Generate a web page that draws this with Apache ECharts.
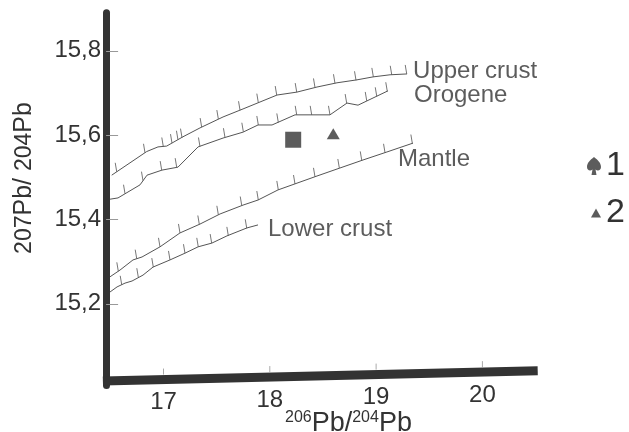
<!DOCTYPE html>
<html><head><meta charset="utf-8">
<script src="https://cdn.jsdelivr.net/npm/echarts@6/dist/echarts.min.js"></script>
<style>html,body{margin:0;padding:0;background:#fff;}#c{width:629px;height:432px;}</style>
</head><body><div id="c"></div>
<script>
// ---- data ----
const xTickValues = [17, 18, 19, 20];
const yTickValues = [15.2, 15.4, 15.6, 15.8];
const curveNames = ['Upper crust', 'Orogene', 'Mantle', 'Lower crust'];
const upperCrust = [[16.513,15.505],[16.842,15.561],[16.948,15.572],[17.030,15.574],[17.183,15.596],[17.343,15.617],[17.560,15.643],[17.748,15.662],[18.068,15.695],[18.256,15.702],[18.444,15.714],[18.632,15.724],[18.820,15.731],[18.971,15.738],[19.131,15.743],[19.291,15.745]];
const orogene = [[16.497,15.448],[16.572,15.451],[16.779,15.482],[16.845,15.505],[16.986,15.517],[17.136,15.524],[17.325,15.572],[17.560,15.593],[17.748,15.607],[17.889,15.624],[18.021,15.624],[18.237,15.648],[18.566,15.648],[18.726,15.676],[18.830,15.671],[19.112,15.705]];
const mantle = [[16.497,15.264],[16.591,15.280],[16.713,15.304],[16.798,15.311],[16.967,15.335],[17.155,15.368],[17.343,15.389],[17.532,15.413],[17.748,15.434],[17.889,15.446],[18.077,15.470],[18.444,15.503],[18.660,15.522],[18.877,15.541],[19.102,15.560],[19.347,15.581]];
const lowerCrust = [[16.497,15.228],[16.563,15.240],[16.638,15.249],[16.704,15.254],[16.807,15.268],[16.901,15.287],[17.061,15.304],[17.202,15.320],[17.325,15.335],[17.456,15.344],[17.597,15.361],[17.786,15.380],[17.889,15.387]];
const upperCrustTicks = [[16.560,15.513],[16.826,15.558],[16.998,15.573],[17.080,15.581],[17.136,15.589],[17.174,15.594],[17.359,15.619],[17.516,15.638],[17.720,15.659],[17.892,15.677],[18.065,15.695],[18.253,15.702],[18.425,15.713],[18.613,15.723],[18.811,15.730],[18.974,15.738],[19.147,15.743],[19.288,15.745]];
const orogeneTicks = [[16.638,15.461],[16.807,15.492],[16.983,15.517],[17.124,15.524],[17.343,15.573],[17.578,15.595],[17.751,15.608],[17.892,15.624],[18.080,15.630],[18.253,15.648],[18.394,15.648],[18.566,15.648],[18.723,15.676],[18.912,15.681],[19.006,15.692],[19.105,15.704]];
const mantleTicks = [[16.575,15.277],[16.748,15.307],[16.967,15.335],[17.155,15.368],[17.337,15.388],[17.516,15.411],[17.736,15.433],[17.892,15.446],[18.080,15.470],[18.237,15.484],[18.425,15.501],[18.654,15.522],[18.865,15.540],[19.084,15.558],[19.341,15.580]];
const lowerCrustTicks = [[16.607,15.245],[16.763,15.263],[16.904,15.287],[17.061,15.304],[17.202,15.320],[17.327,15.335],[17.453,15.344],[17.610,15.361],[17.783,15.379]];
const sample1 = [[18.22, 15.589]];
const sample2 = [[18.597, 15.603]];
const xAxisBar = [[16.43, 15.017], [20.52, 15.041]];

// ---- chart ----
const FONT = "'Liberation Sans', Arial, Helvetica, sans-serif";
const INK = '#333';
const chart = echarts.init(document.getElementById('c'));
const barY = x => xAxisBar[0][1] + (x - xAxisBar[0][0]) * (xAxisBar[1][1] - xAxisBar[0][1]) / (xAxisBar[1][0] - xAxisBar[0][0]);
const curves = [upperCrust, orogene, mantle, lowerCrust];
const labelOffsets = [[6, -3], [26, 5], [-15, 16.5], [10, 4]];

function tickItem(params, api) {
  const p = api.coord([api.value(0), api.value(1)]);
  return { type: 'line', shape: { x1: p[0], y1: p[1], x2: p[0] - 1.5, y2: p[1] - 9 },
    style: { stroke: '#777', lineWidth: 1 } };
}
function xTickItem(params, api) {
  const xv = api.value(0);
  const p = api.coord([xv, api.value(1)]);
  return { type: 'group', children: [
    { type: 'line', shape: { x1: p[0], y1: p[1] - 5, x2: p[0], y2: p[1] - 11 }, style: { stroke: '#aaa', lineWidth: 1 } },
    { type: 'text', x: p[0], y: p[1] + 23, style: { text: String(xv), fontSize: 24, fontFamily: FONT, fill: INK, align: 'center', verticalAlign: 'middle' } }
  ] };
}

const curveSeries = curves.map((c, i) => ({
  type: 'line', name: curveNames[i], data: c, symbol: 'none', silent: true, clip: false,
  lineStyle: { color: '#555', width: 1 }
}));

const option = {
  animation: false,
  backgroundColor: '#fff',
  grid: { left: 106.1, top: 12.8, width: 440.1, height: 372.8, containLabel: false, outerBoundsMode: 'none' },
  xAxis: { type: 'value', min: 16.46, max: 20.6, show: false },
  yAxis: {
    type: 'value', min: 15.006, max: 15.89,
    axisLine: { show: true, onZero: false, lineStyle: { color: INK, width: 7 } },
    axisTick: { show: true, inside: true, length: 12, customValues: yTickValues, lineStyle: { color: '#999', width: 1 } },
    axisLabel: { customValues: yTickValues, formatter: v => v.toFixed(1).replace('.', ','), fontSize: 24, fontFamily: FONT, color: INK, margin: 5 },
    splitLine: { show: false }
  },
  legend: {
    orient: 'vertical', left: 582, top: 144, padding: 5, itemGap: 13,
    itemWidth: 14, itemHeight: 18, selectedMode: false,
    textStyle: { fontSize: 34, lineHeight: 34, color: INK, fontFamily: FONT },
    data: [
      { name: '1', icon: 'path://M7,0C3,3 0,6 0,10C0,13 3,14.5 5.5,12.5L4.5,18L9.5,18L8.5,12.5C11,14.5 14,13 14,10C14,6 11,3 7,0Z' },
      { name: '2', icon: 'path://M0,0M14,18M4,13.5L9,4.5L14,13.5Z' }
    ]
  },
  graphic: [
    { type: 'text', x: 24, y: 178, rotation: Math.PI / 2, silent: true,
      style: { text: '{s|207}{b|Pb/ }{s|204}{b|Pb}', fill: INK, align: 'center', verticalAlign: 'middle',
        rich: { s: { fontSize: 23, fontFamily: FONT, fill: INK, verticalAlign: 'bottom' }, b: { fontSize: 25, fontFamily: FONT, fill: INK, verticalAlign: 'bottom' } } } },
    { type: 'text', x: 285, y: 437, silent: true,
      style: { text: '{s|206}{b|Pb/}{s|204}{b|Pb}', fill: INK, align: 'left', verticalAlign: 'bottom',
        rich: { s: { fontSize: 16, fontFamily: FONT, fill: INK, verticalAlign: 'top' }, b: { fontSize: 27, fontFamily: FONT, fill: INK, verticalAlign: 'bottom' } } } }
  ],
  series: [
    ...curveSeries,
    { type: 'custom', name: 'curveTicks', silent: true, clip: false,
      data: [...upperCrustTicks, ...orogeneTicks, ...mantleTicks, ...lowerCrustTicks], renderItem: tickItem },
    { type: 'line', name: 'xAxisBar', data: xAxisBar, symbol: 'none', silent: true, clip: false, z: 4,
      lineStyle: { color: INK, width: 9, cap: 'butt' } },
    { type: 'custom', name: 'xTicks', silent: true, clip: false,
      data: xTickValues.map(v => [v, barY(v)]), renderItem: xTickItem },
    { type: 'scatter', name: 'curveLabels', silent: true, symbol: 'circle', symbolSize: 0,
      data: curves.map((c, i) => ({ value: c[c.length - 1], name: curveNames[i], label: { offset: labelOffsets[i] } })),
      label: { show: true, position: 'right', distance: 0, formatter: '{b}', fontSize: 24, fontFamily: FONT, color: INK } },
    { type: 'scatter', name: '1', data: sample1, symbol: 'rect', symbolSize: 16, itemStyle: { color: INK } },
    { type: 'scatter', name: '2', data: sample2, symbol: 'triangle', symbolSize: [13, 11], itemStyle: { color: INK } }
  ]
};
chart.setOption(option);
</script>
</body></html>
